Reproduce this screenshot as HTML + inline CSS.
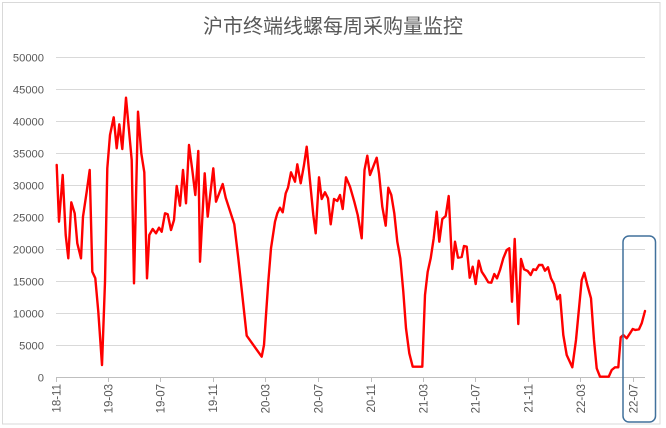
<!DOCTYPE html>
<html>
<head>
<meta charset="utf-8">
<style>
  html, body { margin:0; padding:0; background:#ffffff; }
  body { width:666px; height:428px; overflow:hidden; }
  svg { display:block; }
  .t { font-family:"Liberation Sans","Noto Sans CJK SC",sans-serif; fill:#595959; }
</style>
</head>
<body>
<svg width="666" height="428" viewBox="0 0 666 428" xmlns="http://www.w3.org/2000/svg">
  <rect x="0" y="0" width="666" height="428" fill="#ffffff"/>
  <rect x="2.5" y="2.5" width="657.5" height="421.5" fill="none" stroke="#d9d9d9" stroke-width="1"/>

  <text class="t" x="333" y="33" font-size="20" text-anchor="middle">沪市终端线螺每周采购量监控</text>

  <!-- gridlines -->
  <g stroke="#d9d9d9" stroke-width="1">
    <line x1="56" y1="57.5" x2="645" y2="57.5"/>
    <line x1="56" y1="89.5" x2="645" y2="89.5"/>
    <line x1="56" y1="121.5" x2="645" y2="121.5"/>
    <line x1="56" y1="153.5" x2="645" y2="153.5"/>
    <line x1="56" y1="185.5" x2="645" y2="185.5"/>
    <line x1="56" y1="217.5" x2="645" y2="217.5"/>
    <line x1="56" y1="249.5" x2="645" y2="249.5"/>
    <line x1="56" y1="281.5" x2="645" y2="281.5"/>
    <line x1="56" y1="313.5" x2="645" y2="313.5"/>
    <line x1="56" y1="345.5" x2="645" y2="345.5"/>
  </g>
  <line x1="56" y1="377.5" x2="645" y2="377.5" stroke="#bfbfbf" stroke-width="1"/>
  <g stroke="#bfbfbf" stroke-width="1">
    <line x1="56.5" y1="377" x2="56.5" y2="382"/>
    <line x1="108.5" y1="377" x2="108.5" y2="382"/>
    <line x1="160.5" y1="377" x2="160.5" y2="382"/>
    <line x1="213.5" y1="377" x2="213.5" y2="382"/>
    <line x1="265.5" y1="377" x2="265.5" y2="382"/>
    <line x1="318.5" y1="377" x2="318.5" y2="382"/>
    <line x1="371.5" y1="377" x2="371.5" y2="382"/>
    <line x1="423.5" y1="377" x2="423.5" y2="382"/>
    <line x1="475.5" y1="377" x2="475.5" y2="382"/>
    <line x1="528.5" y1="377" x2="528.5" y2="382"/>
    <line x1="580.5" y1="377" x2="580.5" y2="382"/>
    <line x1="633.5" y1="377" x2="633.5" y2="382"/>
  </g>

  <!-- y labels -->
  <g class="t" font-size="11.2" text-anchor="end">
    <text x="44" y="61.5">50000</text>
    <text x="44" y="93.5">45000</text>
    <text x="44" y="125.5">40000</text>
    <text x="44" y="157.5">35000</text>
    <text x="44" y="189.5">30000</text>
    <text x="44" y="221.5">25000</text>
    <text x="44" y="253.5">20000</text>
    <text x="44" y="285.5">15000</text>
    <text x="44" y="317.5">10000</text>
    <text x="44" y="349.5">5000</text>
    <text x="44" y="381.5">0</text>
  </g>

  <!-- x labels -->
  <g class="t" font-size="11.5" text-anchor="end">
    <text transform="translate(60.5,384) rotate(-90)">18-11</text>
    <text transform="translate(112.3,384) rotate(-90)">19-03</text>
    <text transform="translate(164.5,384) rotate(-90)">19-07</text>
    <text transform="translate(217,384) rotate(-90)">19-11</text>
    <text transform="translate(269.7,384) rotate(-90)">20-03</text>
    <text transform="translate(322.3,384) rotate(-90)">20-07</text>
    <text transform="translate(375,384) rotate(-90)">20-11</text>
    <text transform="translate(427.3,384) rotate(-90)">21-03</text>
    <text transform="translate(479.5,384) rotate(-90)">21-07</text>
    <text transform="translate(532.7,384) rotate(-90)">21-11</text>
    <text transform="translate(584.8,384) rotate(-90)">22-03</text>
    <text transform="translate(637.5,384) rotate(-90)">22-07</text>
  </g>

  <!-- series -->
  <polyline fill="none" stroke="#ff0000" stroke-width="2.4" stroke-linejoin="round" stroke-linecap="round"
    points="56.7,165 59,221.7 62.7,175 65.7,235 68.3,258.3 71.3,202.3 74.7,213.3 77.3,243.3 81,258.3 83,216.7 86.7,191.7 89.7,170 92.3,271.7 95.3,278.3 98.3,311.7 102,365 105,281.7 107.3,168.3 110,135 113.7,117.3 116.7,148.3 119.3,124.3 122.3,149 126,97.7 131.7,160 134,283.3 138,111.7 141.3,153.3 144.3,172.3 147,278.3 149.3,235 152.7,229 156,233.3 159,227.7 161.7,231.7 165,213.3 167.7,214.3 171,230 174,220 176.7,186 180,205.7 183,170 186,203.3 189,145 192.3,170 195.3,195 198.3,151 200,261.7 204.7,173.3 207.7,216.7 213.3,168.3 216,201.7 222.7,184 225.7,197.7 234.3,224.3 238.3,258.3 246.7,335.7 261.7,356.7 264,345 266,315 268.3,281.7 271,248.3 275,221.7 277.3,213.3 280,207.7 282.7,212.3 285.7,193.3 288,187.7 291,172.3 295,181.7 297.3,164.3 300.7,183.3 304,165 306.7,146.7 310.7,188.3 313.3,215 315.7,233.3 319,177.3 321.7,199 325,192.3 328,198.3 330.7,224.3 334,199 337.3,201 340,195 342.7,209 346,177.3 350,186.7 354.3,201.7 357.7,215 361.7,238.3 364.5,170 367.3,155.7 370,175 376.7,157.7 379,173.3 382.3,206.7 385.7,225.7 388.3,187.7 391.3,195 394.3,213.3 397.3,241.7 400.3,258.3 403.3,291.7 406,328.3 409.3,353.3 412.7,366.7 422.3,366.7 425,295 427.7,271.7 430.7,258.3 433.7,238.3 436.7,211.7 439.3,241.7 442.3,219 445.7,216 448.7,196 452.3,269 455,241.7 458,257.7 461.7,257 464,246 466.7,246.7 469.7,277.7 472.7,266.7 475.7,284 478.7,260.7 481.7,271.7 485,276.7 488.3,282.3 491.3,282.7 494.3,274 497,278.3 500,270 503.3,258.3 506.7,250 509.3,248.3 512,301.7 514.7,239 518.3,324 521,259 524,269.3 527.7,271 530.7,275 533.3,269.3 536,270 539,265 542.3,265 545,270.7 548,267.3 551,278.3 554,284 557.3,299.3 560,295 563.3,335 566.7,355 572.3,367.3 576,340 581.7,280 584.3,272.7 587.3,285 591,298.3 594,340 596.7,368.3 600,376.7 608.7,376.7 611.7,370 615,367.3 618.3,367.3 620.7,337.3 623.3,335 626.7,338.3 630,333.3 632.7,329 635.3,330 639,329.3 641.7,323.3 645,311"/>

  <!-- highlight box -->
  <rect x="623" y="236" width="32.5" height="186" rx="6" ry="6" fill="none" stroke="#41719c" stroke-width="1.5"/>
</svg>
</body>
</html>
